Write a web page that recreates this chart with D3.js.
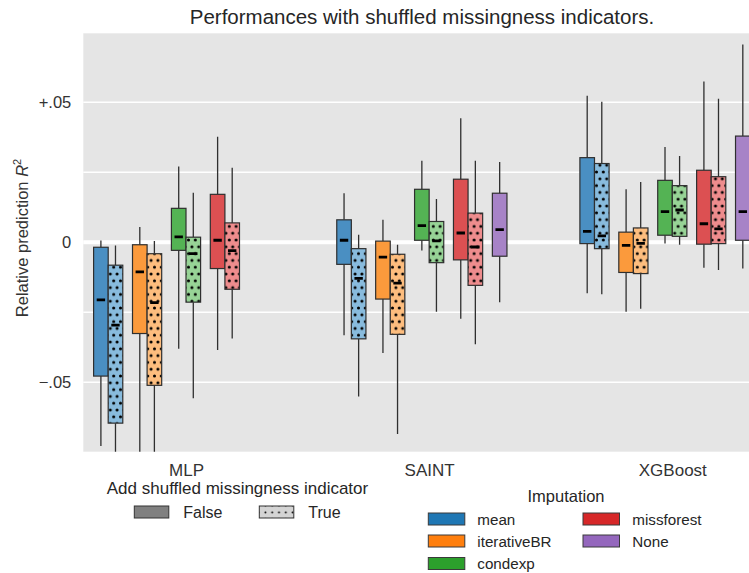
<!DOCTYPE html>
<html>
<head>
<meta charset="utf-8">
<script src="https://cdn.jsdelivr.net/npm/d3@7"></script>
<style>
  html, body { margin: 0; padding: 0; background: #fff; }
  svg { display: block; font-family: "Liberation Sans", Arial, sans-serif; }
</style>
</head>
<body>
<svg id="chart" width="749" height="573"></svg>
<script>
// Models on the x axis and imputation methods within each model
const models = ["MLP", "SAINT", "XGBoost"];
const imputations = ["mean", "iterativeBR", "condexp", "missforest", "None"];
const indicatorLevels = ["False", "True"];

// Box statistics per imputation: [whisker low, Q1, median, Q3, whisker high]
// (null where the combination was not run)
const mlpFalse = [
  [-0.0728, -0.0478, -0.0206, -0.0018, 0.0006],
  [-0.0900, -0.0326, -0.0106, -0.0009, 0.0054],
  [-0.0380, -0.0029, 0.0019, 0.0121, 0.0270],
  [-0.0385, -0.0094, 0.0007, 0.0171, 0.0377],
  null
];
const mlpTrue = [
  [-0.0850, -0.0646, -0.0296, -0.0082, -0.0012],
  [-0.0900, -0.0511, -0.0216, -0.0041, 0.0004],
  [-0.0557, -0.0214, -0.0041, 0.0018, 0.0177],
  [-0.0344, -0.0168, -0.0030, 0.0069, 0.0266],
  null
];
const saintFalse = [
  [-0.0332, -0.0079, 0.0007, 0.0080, 0.0175],
  [-0.0396, -0.0203, -0.0053, 0.0004, 0.0080],
  [-0.0030, 0.0007, 0.0059, 0.0189, 0.0291],
  [-0.0273, -0.0063, 0.0033, 0.0225, 0.0443],
  [-0.0214, -0.0050, 0.0045, 0.0175, 0.0286]
];
const saintTrue = [
  [-0.0551, -0.0345, -0.0129, -0.0023, 0.0027],
  [-0.0685, -0.0329, -0.0146, -0.0043, -0.0009],
  [-0.0248, -0.0073, 0.0005, 0.0074, 0.0154],
  [-0.0364, -0.0154, -0.0017, 0.0104, 0.0291],
  null
];
const xgbFalse = [
  [-0.0182, -0.0005, 0.0039, 0.0302, 0.0523],
  [-0.0248, -0.0108, -0.0011, 0.0036, 0.0189],
  [-0.0005, 0.0025, 0.0109, 0.0221, 0.0340],
  [-0.0091, -0.0007, 0.0066, 0.0257, 0.0574],
  [-0.0094, 0.0007, 0.0109, 0.0379, 0.0706]
];
const xgbTrue = [
  [-0.0186, -0.0023, 0.0023, 0.0281, 0.0502],
  [-0.0238, -0.0112, -0.0004, 0.0051, 0.0215],
  [-0.0009, 0.0021, 0.0115, 0.0202, 0.0308],
  [-0.0099, -0.0005, 0.0048, 0.0234, 0.0512],
  null
];

// Y ticks
const yTickValues = [-0.05, 0, 0.05];
const yTickLabels = ["\u2212.05", "0", "+.05"];
const yGridValues = [-0.05, -0.025, 0.025, 0.05];

// Colours
const baseColors = ["#1f77b4", "#ff7f0e", "#2ca02c", "#d62728", "#9467bd"];
const boxFillFalse = ["#4a8fc2", "#fb9a3c", "#54b354", "#dc5052", "#a783c7"];
const boxFillTrue = ["#88bbdd", "#fdbd7e", "#97d396", "#ee8c8d", "#c6b0dc"];

const statsByModel = [
  [mlpFalse, mlpTrue],
  [saintFalse, saintTrue],
  [xgbFalse, xgbTrue]
];

const svg = d3.select("#chart");
const plot = { left: 83.3, right: 775, top: 33.3, bottom: 451.7 };

const x = d3.scaleLinear().domain([0, 2]).range([186, 672.3]);
const y = d3.scaleLinear().domain([-0.0748, 0.0746]).range([plot.bottom, plot.top]);

// Dodge layout in category units
const slotWidth = 0.16;
const boxWidth = 0.06;
const unit = x(1) - x(0);

const defs = svg.append("defs");
defs.append("clipPath").attr("id", "plotClip")
  .append("rect")
  .attr("x", plot.left).attr("y", plot.top)
  .attr("width", plot.right - plot.left).attr("height", plot.bottom - plot.top);

const dotPattern = defs.append("pattern")
  .attr("id", "dots")
  .attr("patternUnits", "userSpaceOnUse")
  .attr("x", 1.5).attr("y", 2)
  .attr("width", 6.8).attr("height", 13.6);
[[0, 0], [6.8, 0], [3.4, 6.8], [0, 13.6], [6.8, 13.6]].forEach(([cx, cy]) => {
  dotPattern.append("circle").attr("cx", cx).attr("cy", cy).attr("r", 1.5).attr("fill", "#000");
});

const legendDots = defs.append("pattern")
  .attr("id", "legendDots")
  .attr("patternUnits", "userSpaceOnUse")
  .attr("x", 262).attr("y", 509)
  .attr("width", 6.8).attr("height", 6.8);
legendDots.append("circle").attr("cx", 3.4).attr("cy", 3.4).attr("r", 0.95).attr("fill", "#000");

// Plot background and grid
svg.append("rect")
  .attr("x", plot.left).attr("y", plot.top)
  .attr("width", plot.right - plot.left).attr("height", plot.bottom - plot.top)
  .attr("fill", "#e5e5e5");

svg.append("g").selectAll("line")
  .data(yGridValues)
  .join("line")
  .attr("x1", plot.left).attr("x2", plot.right)
  .attr("y1", d => y(d)).attr("y2", d => y(d))
  .attr("stroke", "#fff").attr("stroke-width", 1.6);

svg.append("line")
  .attr("x1", plot.left).attr("x2", plot.right)
  .attr("y1", y(0)).attr("y2", y(0))
  .attr("stroke", "#fff").attr("stroke-width", 4);

// Boxes
const boxes = [];
statsByModel.forEach((pair, m) => {
  pair.forEach((rows, h) => {
    rows.forEach((s, k) => {
      if (!s) return;
      const center = m + (k - 2) * slotWidth + (h === 0 ? -boxWidth / 2 : boxWidth / 2);
      boxes.push({ m, h, k, s, center });
    });
  });
});

const gBoxes = svg.append("g").attr("clip-path", "url(#plotClip)");
const boxW = boxWidth * unit;

const bg = gBoxes.selectAll("g.box").data(boxes).join("g").attr("class", "box");

// whiskers
bg.append("line")
  .attr("x1", d => x(d.center)).attr("x2", d => x(d.center))
  .attr("y1", d => y(d.s[3])).attr("y2", d => y(d.s[4]))
  .attr("stroke", "#2f2f2f").attr("stroke-width", 1.3);
bg.append("line")
  .attr("x1", d => x(d.center)).attr("x2", d => x(d.center))
  .attr("y1", d => y(d.s[1])).attr("y2", d => y(d.s[0]))
  .attr("stroke", "#2f2f2f").attr("stroke-width", 1.3);

// box body
bg.append("rect")
  .attr("x", d => x(d.center) - boxW / 2)
  .attr("y", d => y(d.s[3]))
  .attr("width", boxW)
  .attr("height", d => y(d.s[1]) - y(d.s[3]))
  .attr("fill", d => d.h === 0 ? boxFillFalse[d.k] : boxFillTrue[d.k]);

bg.filter(d => d.h === 1).append("rect")
  .attr("x", d => x(d.center) - boxW / 2)
  .attr("y", d => y(d.s[3]))
  .attr("width", boxW)
  .attr("height", d => y(d.s[1]) - y(d.s[3]))
  .attr("fill", "url(#dots)");

bg.append("rect")
  .attr("x", d => x(d.center) - boxW / 2)
  .attr("y", d => y(d.s[3]))
  .attr("width", boxW)
  .attr("height", d => y(d.s[1]) - y(d.s[3]))
  .attr("fill", "none")
  .attr("stroke", "#2f2f2f").attr("stroke-width", 1.2);

// median marks
bg.append("line")
  .attr("x1", d => x(d.center) - 4.2).attr("x2", d => x(d.center) + 4.2)
  .attr("y1", d => y(d.s[2])).attr("y2", d => y(d.s[2]))
  .attr("stroke", "#000").attr("stroke-width", 2.8);

// Y axis
const yAxis = d3.axisLeft(y)
  .tickValues(yTickValues)
  .tickFormat((d, i) => yTickLabels[i])
  .tickSize(0)
  .tickPadding(12);
const gy = svg.append("g")
  .attr("transform", `translate(${plot.left},0)`)
  .call(yAxis);
gy.select(".domain").remove();
gy.selectAll("text")
  .attr("font-size", 16.5)
  .attr("font-family", "'Liberation Sans', Arial, sans-serif")
  .attr("fill", "#333");

// X axis labels
const xAxis = d3.axisBottom(x)
  .tickValues(models.map((_, i) => i))
  .tickFormat((d, i) => models[i])
  .tickSize(0)
  .tickPadding(12);
const gx = svg.append("g")
  .attr("transform", `translate(0,${plot.bottom})`)
  .call(xAxis);
gx.select(".domain").remove();
gx.selectAll("text")
  .attr("font-size", 17)
  .attr("font-family", "'Liberation Sans', Arial, sans-serif")
  .attr("fill", "#333");

// Y axis title
const yTitle = svg.append("text")
  .attr("transform", "translate(28,238) rotate(-90)")
  .attr("text-anchor", "middle")
  .attr("font-size", 16.5)
  .attr("fill", "#333");
yTitle.append("tspan").text("Relative prediction ");
yTitle.append("tspan").attr("font-style", "italic").text("R");
yTitle.append("tspan").attr("font-size", 11).attr("dy", -7).text("2");

// Title
svg.append("text")
  .attr("x", 422).attr("y", 24)
  .attr("text-anchor", "middle")
  .attr("font-size", 20.5)
  .attr("fill", "#262626")
  .text("Performances with shuffled missingness indicators.");

// Legend: indicator
const legInd = svg.append("g");
legInd.append("text")
  .attr("x", 237.5).attr("y", 493.5)
  .attr("text-anchor", "middle")
  .attr("font-size", 17).attr("fill", "#262626")
  .text("Add shuffled missingness indicator");
const indItems = [
  { label: indicatorLevels[0], px: 134.3, tx: 183.3, fill: "#808080", pattern: false },
  { label: indicatorLevels[1], px: 259.3, tx: 308.3, fill: "#d4d4d4", pattern: true }
];
indItems.forEach(it => {
  legInd.append("rect")
    .attr("x", it.px).attr("y", 506).attr("width", 34.5).attr("height", 12)
    .attr("fill", it.fill);
  if (it.pattern) {
    legInd.append("rect")
      .attr("x", it.px).attr("y", 506).attr("width", 34.5).attr("height", 12)
      .attr("fill", "url(#legendDots)");
  }
  legInd.append("rect")
    .attr("x", it.px).attr("y", 506).attr("width", 34.5).attr("height", 12)
    .attr("fill", "none").attr("stroke", "#333").attr("stroke-width", 1);
  legInd.append("text")
    .attr("x", it.tx).attr("y", 518)
    .attr("font-size", 16).attr("fill", "#262626")
    .text(it.label);
});

// Legend: imputation
const legImp = svg.append("g");
legImp.append("text")
  .attr("x", 566).attr("y", 502)
  .attr("text-anchor", "middle")
  .attr("font-size", 16.5).attr("fill", "#262626")
  .text("Imputation");
const rowY = [519, 541, 563.5];
imputations.forEach((name, i) => {
  const col = i < 3 ? 0 : 1;
  const row = i < 3 ? i : i - 3;
  const px = col === 0 ? 428.3 : 583;
  const tx = col === 0 ? 477.3 : 632.3;
  legImp.append("rect")
    .attr("x", px).attr("y", rowY[row] - 6).attr("width", 36.5).attr("height", 12)
    .attr("fill", baseColors[i])
    .attr("stroke", "#3a3a3a").attr("stroke-width", 1);
  legImp.append("text")
    .attr("x", tx).attr("y", rowY[row] + 5.5)
    .attr("font-size", 15.2).attr("fill", "#262626")
    .text(name);
});
</script>
</body>
</html>
